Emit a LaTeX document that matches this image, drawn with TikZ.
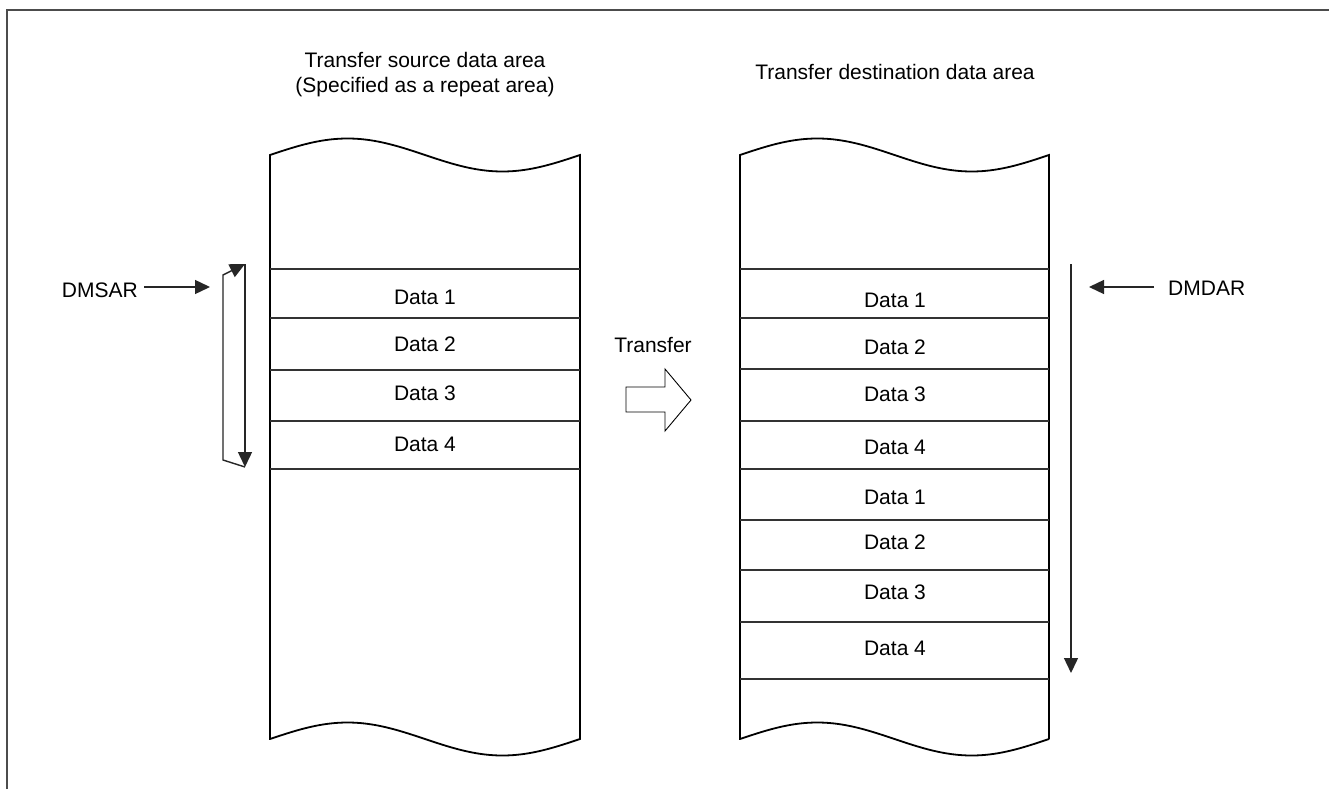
\documentclass[tikz,border=0pt]{standalone}
\usepackage{fontspec}
\setmainfont{Liberation Sans}
\usetikzlibrary{arrows.meta}
\begin{document}
\begin{tikzpicture}[x=1pt,y=-1pt,
  txt/.style={font=\fontsize{21}{25}\selectfont, inner sep=0pt},
  colline/.style={line width=1.8pt, black, line join=miter},
  rowline/.style={line width=1.2pt, black!80},
  ptr/.style={line width=1.4pt, black!85, -{Triangle[length=15pt,width=14pt]}},
  framel/.style={line width=2pt, black!70},
  blockarrow/.style={line width=0.9pt, black, line join=miter},
]
\useasboundingbox (0,0) rectangle (1329,789);
\fill[white] (0,0) rectangle (1329,789);
% outer frame (cut by image edges)
\draw[framel] (7,789) -- (7,10) -- (1329,10);

% headers
\node[txt, anchor=base] (srch1) at (425,68) {Transfer source data area};
\node[txt, anchor=base] (srch2) at (425,93) {(Specified as a repeat area)};
\node[txt, anchor=base] (dsth) at (895,80) {Transfer destination data area};

% source column
\draw[colline] (270,739) -- (270,155)
  -- plot[domain=0:310,samples=90,smooth] ({270+\x},{155-16.5*sin(1.16129*\x)})
  -- (580,739)
  -- plot[domain=310:0,samples=90,smooth] ({270+\x},{739-16.5*sin(1.16129*\x)})
  -- cycle;
\foreach \yy in {269,318,370,421,469} \draw[rowline] (270,\yy) -- (580,\yy);
\node[txt] (s1) at (425,297) {Data 1};
\node[txt] (s2) at (425,344.5) {Data 2};
\node[txt] (s3) at (425,393) {Data 3};
\node[txt] (s4) at (425,444.5) {Data 4};

% destination column
\draw[colline] (740,739) -- (740,155)
  -- plot[domain=0:309,samples=90,smooth] ({740+\x},{155-16.5*sin(1.165049*\x)})
  -- (1049,739)
  -- plot[domain=309:0,samples=90,smooth] ({740+\x},{739-16.5*sin(1.165049*\x)})
  -- cycle;
\foreach \yy in {269,318,369,421,469,520,570,622,679} \draw[rowline] (740,\yy) -- (1049,\yy);
\node[txt] (d1) at (895,300) {Data 1};
\node[txt] (d2) at (895,346.8) {Data 2};
\node[txt] (d3) at (895,394.7) {Data 3};
\node[txt] (d4) at (895,447) {Data 4};
\node[txt] (d5) at (895,497) {Data 1};
\node[txt] (d6) at (895,542.5) {Data 2};
\node[txt] (d7) at (895,592) {Data 3};
\node[txt] (d8) at (895,648.7) {Data 4};

% DMSAR pointer and repeat loop
\node[txt, anchor=base east] (dmsar) at (138,297) {DMSAR};
\coordinate (dmsartail) at (144,287);
\coordinate (dmsartip) at (210,287);
\draw[ptr] (dmsartail) -- (dmsartip);
\coordinate (lt) at (245,264);
\coordinate (lb) at (245,467);
\coordinate (llb) at (223,460);
\coordinate (llt) at (223,275);
\draw[ptr] (lt) -- (lb);
\draw[ptr, line join=miter] (lb) -- (llb) -- (llt) -- (lt);

% transfer block arrow
\node[txt, anchor=base] (xfer) at (653,352.5) {Transfer};
\draw[blockarrow] (626,387) -- (665,387) -- (665,369) -- (691,400)
  -- (665,431) -- (665,412) -- (626,412) -- cycle;

% DMDAR pointer and progression
\node[txt, anchor=base west] (dmdar) at (1168,295) {DMDAR};
\coordinate (dmdartail) at (1154,287);
\coordinate (dmdartip) at (1089,287);
\draw[ptr] (dmdartail) -- (dmdartip);
\coordinate (dtop) at (1071,264);
\coordinate (dbot) at (1071,673);
\draw[ptr] (dtop) -- (dbot);
\end{tikzpicture}
\end{document}
